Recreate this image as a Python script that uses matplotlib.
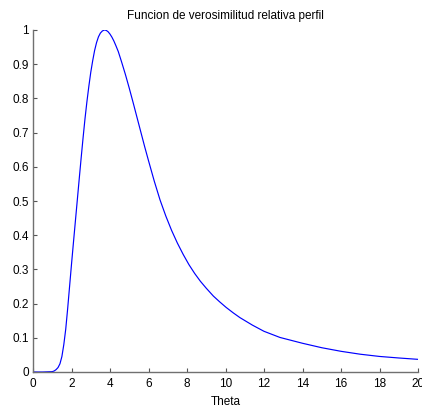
import matplotlib
matplotlib.use('Agg')
import matplotlib.pyplot as plt

# values
theta = [0, 0.5, 1.0, 1.1, 1.2, 1.3, 1.4, 1.5, 1.6, 1.7, 1.8, 1.9, 2.0, 2.1,
         2.2, 2.3, 2.4, 2.5, 2.6, 2.7, 2.8, 2.9, 3.0, 3.1, 3.2, 3.3, 3.4, 3.5,
         3.6, 3.7, 3.8, 3.9, 4.0, 4.1, 4.2, 4.3, 4.43, 4.6, 4.8, 5.0, 5.2,
         5.4, 5.6, 5.8, 6.0, 6.3, 6.6, 6.9, 7.2, 7.5, 7.8, 8.1, 8.4, 8.7, 9.0,
         9.37, 9.7, 10.03, 10.4, 10.75, 11.4, 12.0, 12.83, 14, 15, 16, 17, 18,
         19, 20]
rel_lik = [0, 0, 0.001, 0.003, 0.007, 0.013, 0.024, 0.045, 0.08, 0.125,
           0.185, 0.25, 0.315, 0.378, 0.44, 0.502, 0.564, 0.625, 0.684, 0.74,
           0.79, 0.835, 0.876, 0.91, 0.94, 0.963, 0.98, 0.991, 0.997, 1.0,
           0.999, 0.995, 0.988, 0.979, 0.968, 0.955, 0.937, 0.907, 0.870,
           0.830, 0.788, 0.745, 0.702, 0.659, 0.618, 0.558, 0.503, 0.456,
           0.414, 0.377, 0.344, 0.314, 0.288, 0.265, 0.245, 0.222, 0.205,
           0.189, 0.173, 0.159, 0.137, 0.119, 0.101, 0.084, 0.071, 0.0605,
           0.052, 0.0455, 0.041, 0.037]

xticks = list(range(0, 21, 2))
yticks = [i / 10 for i in range(11)]
ytick_labels = ['0', '0.1', '0.2', '0.3', '0.4', '0.5', '0.6', '0.7', '0.8', '0.9', '1']

plt.rcParams['font.family'] = ['Liberation Sans', 'DejaVu Sans']

fig = plt.figure(figsize=(4.22, 4.07), dpi=100)
ax = fig.add_axes([33 / 422, 35 / 407, 385 / 422, 342 / 407])

ax.plot(theta, rel_lik, color='#0000ff', lw=0.85)

ax.set_xlim(0, 20)
ax.set_ylim(0, 1)
ax.set_xticks(xticks)
ax.set_yticks(yticks)
ax.set_yticklabels(ytick_labels)
ax.tick_params(direction='in', length=3, width=0.8, color='#555555',
               labelsize=8.5)
ax.tick_params(axis='x', pad=4)
ax.tick_params(axis='y', pad=3)

for side in ['top', 'right']:
    ax.spines[side].set_visible(False)
for side in ['left', 'bottom']:
    ax.spines[side].set_color('#707070')
    ax.spines[side].set_linewidth(1.0)

ax.set_xlabel('Theta', fontsize=8.5, labelpad=4.5)
ax.set_title('Funcion de verosimilitud relativa perfil', fontsize=8.5, pad=8)

fig.savefig('out.png', dpi=100)
